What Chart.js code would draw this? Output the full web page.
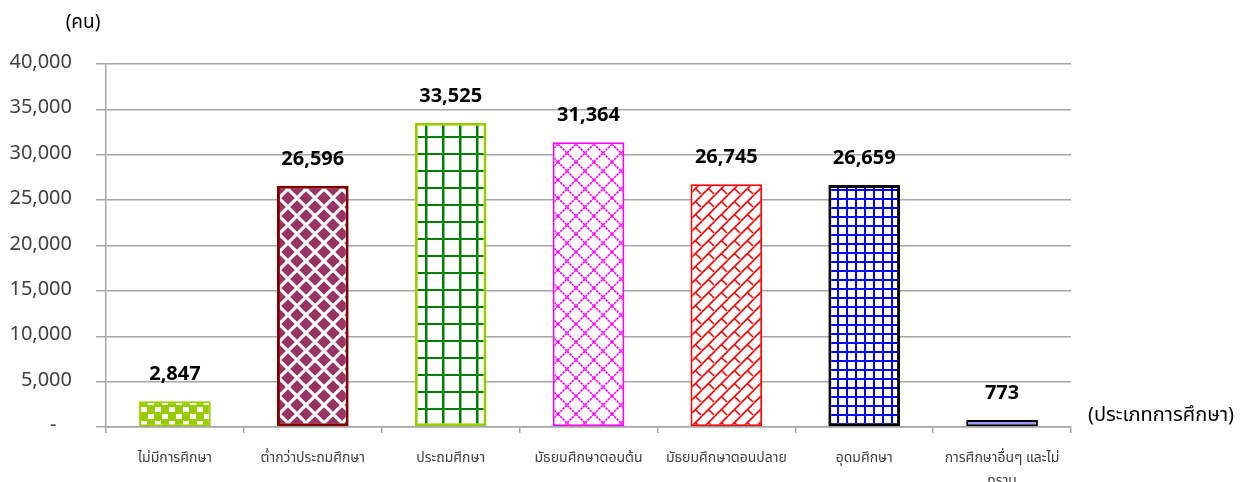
<!DOCTYPE html>
<html>
<head>
<meta charset="utf-8">
<script src="https://cdn.jsdelivr.net/npm/chart.js@4"></script>
<style>
  html, body { margin: 0; padding: 0; background: #fff; }
  #wrap { width: 1256px; height: 482px; }
</style>
</head>
<body>
<div id="wrap"><canvas id="eduChart" width="1256" height="482"></canvas></div>
<script>
const categories = [
    'ไม่มีการศึกษา',
    'ต่ำกว่าประถมศึกษา',
    'ประถมศึกษา',
    'มัธยมศึกษาตอนต้น',
    'มัธยมศึกษาตอนปลาย',
    'อุดมศึกษา',
    ['การศึกษาอื่นๆ และไม่', 'ทราบ']
];
const persons = [2847, 26596, 33525, 31364, 26745, 26659, 773];
const yTicks = [0, 5000, 10000, 15000, 20000, 25000, 30000, 35000, 40000];

const FONT = 'Tahoma, "Noto Sans Thai", "Noto Sans", sans-serif';

// little tiles for the hatched fills
function makeTile(size, draw) {
    const c = document.createElement('canvas');
    c.width = size;
    c.height = size;
    const g = c.getContext('2d');
    draw(g, size);
    return document.createElement('canvas').getContext('2d').createPattern(c, 'repeat');
}

function wrapped(g, s, fn) {
    for (let dx = -s; dx <= s; dx += s) {
        for (let dy = -s; dy <= s; dy += s) {
            g.save();
            g.translate(dx, dy);
            fn();
            g.restore();
        }
    }
}

const pCheck = makeTile(14, (g, s) => {
    g.fillStyle = '#99cc00';
    g.fillRect(0, 0, s, s);
    g.fillStyle = '#ffffff';
    g.fillRect(1, 1, 6, 5);
    g.fillRect(8, 8, 6, 5);
});

const pDiamond = makeTile(18, (g, s) => {
    g.fillStyle = '#ffffff';
    g.fillRect(0, 0, s, s);
    g.fillStyle = '#993366';
    const h = 6.8;
    const centers = [[0, 0], [s, 0], [0, s], [s, s], [s / 2, s / 2]];
    centers.forEach(([cx, cy]) => {
        g.beginPath();
        g.moveTo(cx, cy - h);
        g.lineTo(cx + h, cy);
        g.lineTo(cx, cy + h);
        g.lineTo(cx - h, cy);
        g.closePath();
        g.fill();
    });
});

const pGreenGrid = makeTile(17, (g, s) => {
    g.fillStyle = '#ffffff';
    g.fillRect(0, 0, s, s);
    g.fillStyle = '#008000';
    g.fillRect(0, 0, 2.5, s);
    g.fillRect(0, 0, s, 2);
});

const pCross = makeTile(18, (g, s) => {
    g.fillStyle = '#ffffff';
    g.fillRect(0, 0, s, s);
    g.strokeStyle = '#ff00ff';
    g.lineWidth = 1.6;
    g.setLineDash([2.5, 0.8]);
    g.beginPath();
    g.moveTo(0, 0); g.lineTo(s, s);
    g.moveTo(s, 0); g.lineTo(0, s);
    g.stroke();
});

const pBrick = makeTile(13, (g, s) => {
    g.fillStyle = '#ffffff';
    g.fillRect(0, 0, s, s);
    g.strokeStyle = '#ff0000';
    g.lineWidth = 1.6;
    wrapped(g, s, () => {
        g.beginPath();
        g.moveTo(0, s); g.lineTo(s, 0);
        g.moveTo(6.5, 6.5); g.lineTo(12, 12);
        g.stroke();
    });
});

const pBlueGrid = makeTile(9, (g, s) => {
    g.fillStyle = '#ffffff';
    g.fillRect(0, 0, s, s);
    g.fillStyle = '#0000ff';
    g.fillRect(0, 0, 2, s);
    g.fillRect(0, 0, s, 2);
});

const fills = [pCheck, pDiamond, pGreenGrid, pCross, pBrick, pBlueGrid, '#9999ff'];
const edges = ['#99cc00', '#800000', '#99cc00', '#ff00ff', '#ff0000', '#000000', '#000000'];
const edgeWidths = [2, 3, 3, 2, 2, 3, 2];

const valueLabels = {
    id: 'valueLabels',
    afterDatasetsDraw(chart) {
        const ctx = chart.ctx;
        const meta = chart.getDatasetMeta(0);
        ctx.save();
        ctx.font = 'bold 20px ' + FONT;
        ctx.fillStyle = '#000';
        ctx.textAlign = 'center';
        ctx.textBaseline = 'middle';
        meta.data.forEach((bar, i) => {
            ctx.fillText(persons[i].toLocaleString('en-US'), bar.x, bar.y - 25);
        });
        ctx.restore();
    }
};

const axisNames = {
    id: 'axisNames',
    afterDraw(chart) {
        const ctx = chart.ctx;
        const area = chart.chartArea;
        ctx.save();
        ctx.fillStyle = '#000';
        ctx.textBaseline = 'middle';
        ctx.textAlign = 'center';
        ctx.font = '19px ' + FONT;
        ctx.fillText('(คน)', 83, 24);
        ctx.textAlign = 'left';
        ctx.font = '20px ' + FONT;
        ctx.fillText('(ประเภทการศึกษา)', area.right + 17, area.bottom - 10);
        ctx.restore();
    }
};

new Chart(document.getElementById('eduChart'), {
    type: 'bar',
    data: {
        labels: categories,
        datasets: [{
            data: persons,
            backgroundColor: fills,
            borderColor: edges,
            borderWidth: edgeWidths,
            borderSkipped: false,
            categoryPercentage: 1,
            barPercentage: 0.52
        }]
    },
    options: {
        responsive: false,
        animation: false,
        devicePixelRatio: 1,
        layout: { padding: { top: 64, right: 185, bottom: 0, left: 0 } },
        plugins: {
            legend: { display: false },
            tooltip: { enabled: false }
        },
        scales: {
            y: {
                min: 0,
                max: 40000,
                afterFit: s => { s.width = 106; },
                afterBuildTicks: s => { s.ticks = yTicks.map(v => ({ value: v })); },
                grid: { color: '#a6a6a6', lineWidth: 1.5, tickLength: 10 },
                border: { color: '#a6a6a6', width: 1.5 },
                ticks: {
                    padding: 24,
                    color: '#404040',
                    font: { family: FONT, size: 20 },
                    callback: v => v === 0 ? '-   ' : v.toLocaleString('en-US')
                }
            },
            x: {
                afterFit: s => { s.height = 55; },
                grid: { drawOnChartArea: false, color: '#a6a6a6', lineWidth: 1.5, tickLength: 6, offset: true },
                border: { color: '#a6a6a6', width: 1.5 },
                ticks: {
                    padding: 15,
                    color: '#404040',
                    maxRotation: 0,
                    autoSkip: false,
                    font: { family: FONT, size: 14, lineHeight: 1.65 }
                }
            }
        }
    },
    plugins: [valueLabels, axisNames]
});
</script>
</body>
</html>
